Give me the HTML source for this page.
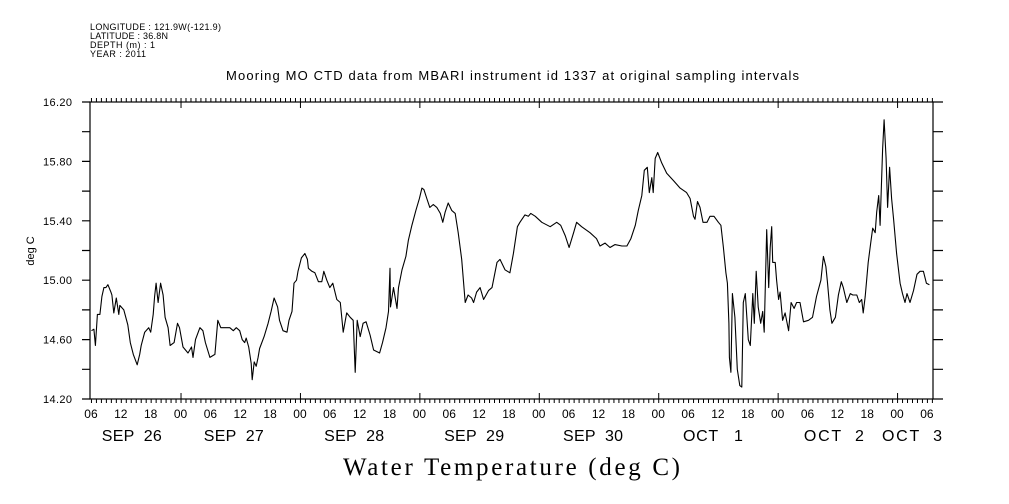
<!DOCTYPE html>
<html><head><meta charset="utf-8"><style>
html,body{margin:0;padding:0;background:#fff;}
svg{display:block;font-family:"Liberation Sans",sans-serif;}
</style></head><body>
<svg id="chart" width="1009" height="504" viewBox="0 0 1009 504" xmlns="http://www.w3.org/2000/svg">
<g font-size="9" fill="#000">
<text x="90" y="30" textLength="131">LONGITUDE : 121.9W(-121.9)</text>
<text x="90" y="39" textLength="78">LATITUDE : 36.8N</text>
<text x="90" y="48" textLength="65">DEPTH (m) : 1</text>
<text x="90" y="57" textLength="56">YEAR : 2011</text>
</g>
<text x="226" y="80" textLength="573" font-size="13">Mooring MO CTD data from MBARI instrument id 1337 at original sampling intervals</text>
<text transform="translate(34,251) rotate(-90)" text-anchor="middle" font-size="11">deg C</text>
<text x="343" y="475" textLength="337" font-size="25" font-family="Liberation Serif, serif">Water Temperature (deg C)</text>
<g id="axes"></g>
<g id="series"></g>
</svg>
<script>
const hours = [6.1,6.6,6.9,7.3,7.8,8.2,8.6,9.0,9.4,10.0,10.2,10.6,11.1,11.6,11.8,12.6,13.4,13.9,14.5,15.3,15.8,16.1,16.8,17.6,18.0,18.5,18.8,19.1,19.5,20.0,20.5,20.9,21.5,21.9,22.7,23.4,23.8,24.5,25.5,26.2,26.5,27.0,27.9,28.5,29.0,29.9,30.9,31.5,32.1,32.9,33.9,34.6,35.2,35.9,36.4,36.9,37.2,37.7,38.2,38.4,38.8,39.2,39.6,39.9,40.8,41.6,42.2,42.8,43.5,43.9,44.6,45.4,45.8,46.4,46.8,47.3,47.6,48.3,49.0,49.5,49.7,50.4,51.0,51.7,52.4,52.8,53.4,54.0,54.6,55.4,56.1,56.7,57.4,58.1,58.7,59.1,59.5,60.1,60.7,61.3,62.1,62.8,64.0,64.6,65.3,65.8,66.1,66.2,66.8,67.5,67.8,68.5,69.3,69.8,70.5,71.3,72.0,72.5,72.9,73.5,74.1,74.8,75.5,76.2,76.7,77.2,77.8,78.5,79.2,79.8,80.5,81.2,81.8,82.5,82.9,83.5,84.2,84.9,85.9,86.6,87.6,88.2,89.2,90.2,90.9,91.7,92.2,93.2,93.9,94.4,95.3,96.6,98.3,99.6,100.4,101.3,102.1,103.0,103.6,104.6,106.3,107.6,108.3,109.3,110.3,111.3,112.7,113.7,114.5,115.4,116.0,116.7,117.2,117.8,118.2,118.7,119.0,119.4,119.9,120.7,121.7,123.1,124.4,125.7,126.4,127.1,127.4,127.9,128.4,129.0,129.8,130.4,131.2,132.1,132.6,133.1,133.6,133.9,134.2,134.3,134.6,134.9,135.4,135.9,136.4,136.8,137.1,137.5,138.1,138.5,139.0,139.3,139.7,140.1,140.6,141.0,141.3,141.8,142.2,142.5,142.8,143.0,143.5,143.8,144.2,144.5,145.0,145.5,146.2,146.7,147.3,147.8,148.5,149.2,150.2,151.0,151.8,152.7,153.2,153.7,154.0,154.5,154.9,155.6,156.2,156.8,157.2,157.9,158.6,159.1,159.9,160.4,160.9,161.2,161.6,162.2,162.7,163.1,163.6,163.9,164.3,164.6,165.1,165.4,165.8,166.1,166.5,166.9,167.3,167.9,168.6,169.1,169.6,170.0,170.6,171.3,172.0,172.6,173.3,173.9,174.5];
const temps = [14.66,14.67,14.56,14.77,14.77,14.89,14.95,14.95,14.97,14.92,14.90,14.78,14.88,14.77,14.83,14.80,14.70,14.58,14.50,14.43,14.50,14.56,14.65,14.68,14.65,14.77,14.89,14.98,14.85,14.98,14.90,14.75,14.68,14.56,14.58,14.71,14.68,14.55,14.51,14.55,14.48,14.60,14.68,14.66,14.58,14.48,14.50,14.73,14.68,14.68,14.68,14.66,14.68,14.66,14.60,14.58,14.61,14.55,14.44,14.33,14.45,14.42,14.48,14.54,14.62,14.71,14.79,14.88,14.82,14.73,14.66,14.65,14.73,14.79,14.98,15.00,15.06,15.15,15.18,15.14,15.08,15.06,15.05,14.99,14.99,15.06,15.00,14.95,14.98,14.87,14.85,14.65,14.78,14.75,14.73,14.38,14.73,14.62,14.71,14.72,14.63,14.53,14.51,14.58,14.68,14.79,15.08,14.82,14.95,14.81,14.95,15.07,15.16,15.27,15.37,15.47,15.55,15.62,15.61,15.55,15.49,15.51,15.49,15.45,15.39,15.46,15.52,15.47,15.45,15.32,15.14,14.85,14.90,14.88,14.85,14.92,14.95,14.87,14.93,14.95,15.12,15.14,15.07,15.05,15.18,15.36,15.39,15.44,15.43,15.45,15.43,15.39,15.36,15.39,15.37,15.30,15.22,15.32,15.39,15.36,15.32,15.28,15.23,15.25,15.22,15.24,15.23,15.23,15.28,15.37,15.47,15.57,15.74,15.76,15.59,15.69,15.59,15.82,15.86,15.79,15.72,15.67,15.62,15.59,15.55,15.43,15.41,15.53,15.49,15.39,15.39,15.43,15.43,15.39,15.37,15.22,15.05,14.98,14.71,14.48,14.38,14.91,14.75,14.40,14.29,14.28,14.85,14.91,14.60,14.56,14.91,14.71,15.06,14.82,14.71,14.79,14.65,15.34,14.95,15.22,15.36,15.12,15.12,15.00,14.87,14.92,14.73,14.78,14.66,14.85,14.81,14.85,14.85,14.72,14.73,14.75,14.89,15.00,15.16,15.09,14.99,14.80,14.71,14.75,14.90,14.99,14.95,14.85,14.91,14.90,14.90,14.85,14.87,14.78,14.89,15.12,15.25,15.35,15.32,15.46,15.57,15.37,15.88,16.08,15.82,15.49,15.76,15.55,15.41,15.18,14.98,14.91,14.85,14.91,14.85,14.93,15.04,15.06,15.06,14.98,14.97];
const yTickValues = [14.2,14.4,14.6,14.8,15.0,15.2,15.4,15.6,15.8,16.0,16.2];
const yTickLabels = ["14.20","","14.60","","15.00","","15.40","","15.80","","16.20"];
const xLabelHours = [6,12,18,24,30,36,42,48,54,60,66,72,78,84,90,96,102,108,114,120,126,132,138,144,150,156,162,168,174];
const xLabelText = ["06","12","18","00","06","12","18","00","06","12","18","00","06","12","18","00","06","12","18","00","06","12","18","00","06","12","18","00","06"];
const dateHours = [14.2,34.7,58.9,83.0,106.9,131.0,155.3,171.0];
const dateLabels = ["SEP  26","SEP  27","SEP  28","SEP  29","SEP  30","OCT   1","OCT  2","OCT  3"];

const NS = "http://www.w3.org/2000/svg";
const L = 90, R = 933, T = 102, B = 399;
const H0 = 61.1, PXH = 4.976;
const xs = h => H0 + h * PXH;
const ys = v => B - (v - 14.2) / 2.0 * (B - T);
const axes = document.getElementById('axes');
const series = document.getElementById('series');
function mk(tag, attrs, parent) {
  const e = document.createElementNS(NS, tag);
  for (const k in attrs) e.setAttribute(k, attrs[k]);
  parent.appendChild(e);
  return e;
}
const frame = mk('rect', {x: L, y: T, width: R - L, height: B - T, fill: 'none', stroke: '#000', 'stroke-width': 1.2}, axes);


let d = '';
const hStart = Math.ceil((L - H0) / PXH), hEnd = Math.floor((R - H0) / PXH);
for (let h = hStart; h <= hEnd; h++) {
  const x = xs(h) + 0.5;
  const major = h % 24 === 0;
  d += `M${x},${B}v4M${x},${T}v-4`;
  if (major) d += `M${x},${B}v-6M${x},${T}v6`;
}
const ticks = mk('path', {d: d, stroke: '#000', 'stroke-width': 1, fill: 'none'}, axes);


let yd = '';
yTickValues.forEach(v => { const y = ys(v); yd += `M${L - 8},${y}H${L}M${R},${y}h10`; });
const yt = mk('path', {d: yd, stroke: '#000', 'stroke-width': 1.2, fill: 'none'}, axes);


yTickValues.forEach((v, i) => {
  if (!yTickLabels[i]) return;
  const t = mk('text', {x: L - 47, y: ys(v) + 4, textLength: 29, 'font-size': 11}, axes);
  t.textContent = yTickLabels[i];
  
  
});
xLabelHours.forEach((h, i) => {
  const t = mk('text', {x: xs(h), y: 418, 'text-anchor': 'middle', 'font-size': 12}, axes);
  t.textContent = xLabelText[i];
  
  
});
dateHours.forEach((h, i) => {
  const t = mk('text', {x: xs(h) - 30, y: 441, textLength: 60, 'font-size': 16, 'xml:space': 'preserve', style: 'white-space:pre'}, axes);
  t.textContent = dateLabels[i];
  
  
});
const pts = hours.map((h, i) => xs(h).toFixed(1) + ',' + ys(temps[i]).toFixed(1)).join(' ');
const line = mk('polyline', {points: pts, fill: 'none', stroke: '#000', 'stroke-width': 1.1, 'stroke-linejoin': 'round'}, series);


</script>
</body></html>
